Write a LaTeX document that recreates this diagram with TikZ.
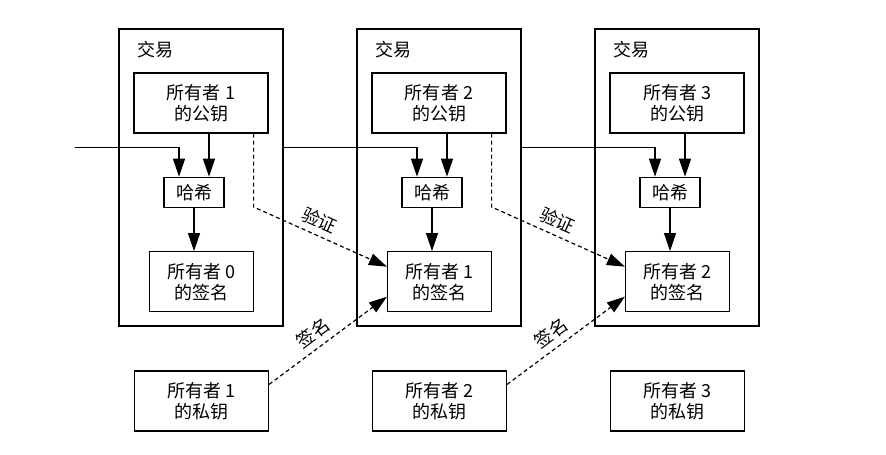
\documentclass[tikz,border=0pt]{standalone}
\usepackage{fontspec}
\setmainfont{Noto Sans CJK SC}
\usetikzlibrary{arrows.meta,calc}

\tikzset{
  box/.style={draw, line width=0.6pt, inner sep=0pt, align=center, font=\fontsize{9}{10.5}\selectfont},
  txbox/.style={box, minimum width=82pt, minimum height=148.5pt},
  keybox/.style={box, minimum width=67pt, minimum height=30pt},
  hashbox/.style={box, minimum width=30pt, minimum height=15pt},
  sigbox/.style={box, minimum width=52pt, minimum height=30pt},
  arr/.style={-{Triangle[length=9pt,width=6pt]}, line width=0.6pt},
  dasharr/.style={arr, dash pattern=on 2pt off 1.5pt},
  lbl/.style={font=\fontsize{9}{10.5}\selectfont, inner sep=3pt},
}

\begin{document}
\begin{tikzpicture}[x=0.5pt, y=-0.5pt]
  \useasboundingbox (0,0) rectangle (886,454);

  \coordinate (out0) at (75,147.7); % incoming line

  \foreach \i [evaluate=\i as \cx using 201+238*(\i-1), evaluate=\i as \j using int(\i-1)] in {1,2,3} {
    \node[txbox] (tx\i) at (\cx,177.5) {};
    \node[lbl] (title\i) at ($(tx\i.north west)+(37,21)$) {交易};
    \node[keybox] (pub\i) at (\cx,103) {所有者 \i\\的公钥};
    \node[hashbox] (hash\i) at (\cx-7,192.3) {哈希};
    \node[sigbox] (sig\i) at (\cx+0.5,281.7) {所有者 \j\\的签名};
    \node[keybox] (priv\i) at (\cx+0.5,401) {所有者 \i\\的私钥};

    \coordinate (hin\i) at ($(hash\i.north)+(-15,0)$);
    \coordinate (hkey\i) at ($(hash\i.north)+(15,0)$);
    \coordinate (out\i) at (tx\i.east |- 0,147.7);

    \draw[arr] (out\j) -| (hin\i); % previous tx - hash
    \draw[arr] (hkey\i |- pub\i.south) -- (hkey\i); % pubkey - hash
    \draw[arr] (hash\i.south) -- (hash\i.south |- sig\i.north); % hash - sig
  }

  \foreach \i/\k in {1/2,2/3} {
    \coordinate (vk\i) at ($(pub\i.south east)+(-15,0)$);
    % verify
    \draw[dasharr] (vk\i) -- (vk\i |- 0,207) -- ($(sig\k.west)+(0,-15)$)
      node[lbl, pos=0.45, above, sloped] {验证};
    % sign
    \draw[dasharr] ($(priv\i.north east)+(0,14)$) -- ($(sig\k.west)+(0,15)$)
      node[lbl, pos=0.45, above, sloped] {签名};
  }
\end{tikzpicture}
\end{document}
